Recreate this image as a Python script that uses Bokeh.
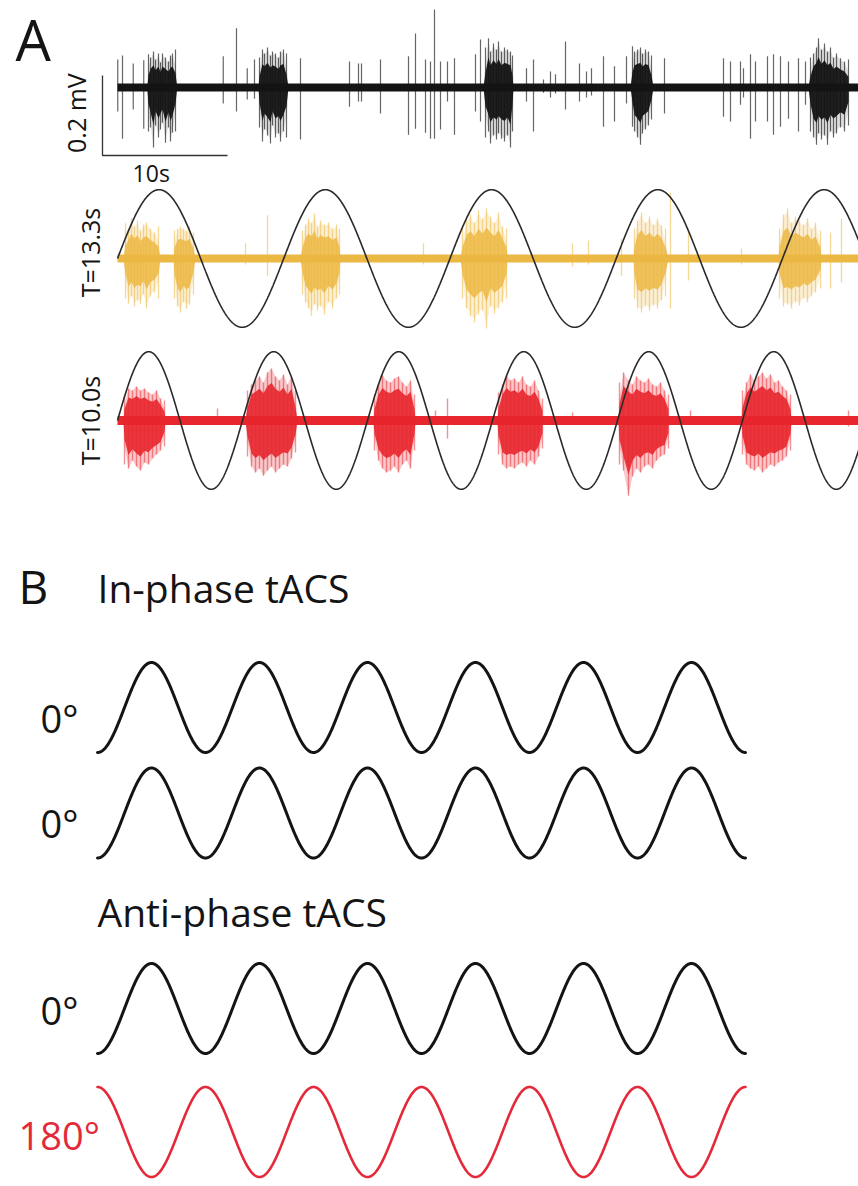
import numpy as np
from bokeh.plotting import figure
from bokeh.models import Range1d, Label
from bokeh.layouts import column
from bokeh.embed import file_html
from bokeh.resources import INLINE

# ---------------- Panel A data (time in s, amplitude in microvolts) ----------------
top_spike_t = [0.02, 0.40, 1.26, 2.10,
               2.48, 2.64, 2.88, 3.04, 3.28, 3.44, 3.60, 3.84, 4.08, 4.24, 4.40, 4.64,
               8.46, 9.52, 10.38, 10.96,
               11.36, 11.60, 11.76, 12.00, 12.24, 12.40, 12.64, 12.88, 13.04, 13.28, 13.52,
               14.64, 18.56, 19.28, 19.52, 21.04, 23.28, 23.84, 24.64, 25.04, 25.36, 25.84, 26.40, 26.96, 28.64, 29.04,
               29.44, 29.68, 29.84, 30.08, 30.32, 30.48, 30.72, 30.96, 31.20, 31.44, 31.60,
               32.72, 33.28, 34.08, 34.64, 35.04, 35.84, 36.96, 37.52, 37.92, 38.88, 39.76, 40.72,
               41.20, 41.36, 41.60, 41.84, 42.00, 42.24, 42.48, 42.72,
               43.76, 48.48, 49.04, 49.84, 50.08, 50.64, 51.04, 52.00, 52.48, 53.04, 53.68, 54.48, 55.04,
               55.44, 55.68, 55.92, 56.08, 56.32, 56.56, 56.80, 57.04, 57.28, 57.52, 57.84, 58.16, 58.48]
top_spike_up = [70, 80, 60, 68,
                83, 75, 90, 70, 85, 63, 85, 75, 65, 80, 85, 95,
                78, 148, 48, 70,
                75, 95, 85, 100, 80, 90, 85, 75, 90, 95, 85,
                73, 65, 60, 60, 70, 78, 135, 70, 65, 195, 65, 65, 73, 83, 120,
                100, 123, 90, 110, 95, 115, 90, 100, 95, 90, 80,
                48, 70, 20, 40, 33, 115, 60, 40, 48, 78, 53, 78,
                103, 90, 95, 100, 85, 95, 90, 80,
                73, 73, 65, 65, 48, 83, 65, 78, 83, 78, 65, 73, 65,
                75, 85, 100, 123, 95, 110, 90, 100, 75, 85, 73, 65, 70]
top_spike_dn = [60, 128, 55, 103,
                110, 100, 150, 95, 125, 105, 88, 138, 100, 135, 113, 110,
                40, 60, 30, 28,
                100, 135, 105, 120, 140, 95, 125, 115, 135, 110, 125,
                130, 48, 35, 35, 65, 118, 103, 113, 128, 128, 105, 35, 118, 60, 85,
                125, 110, 140, 120, 130, 115, 128, 135, 120, 150, 110,
                35, 110, 13, 25, 15, 55, 35, 25, 20, 98, 85, 40,
                98, 110, 125, 143, 115, 105, 95, 80,
                65, 73, 85, 43, 25, 128, 85, 85, 118, 98, 78, 110, 43,
                110, 125, 143, 115, 130, 120, 143, 110, 125, 115, 100, 110, 95]
top_burst_t0 = [2.38, 11.28, 29.28, 41.04, 55.28]
top_burst_t1 = [4.78, 13.68, 31.68, 42.88, 58.48]

y_spike_t = [0.64, 0.88, 1.12, 1.36, 1.60, 1.84, 2.08, 2.32, 2.64, 2.96, 3.28,
             4.56, 4.80, 5.04, 5.28, 5.52, 5.76, 6.08,
             10.24, 12.00,
             14.80, 15.04, 15.28, 15.52, 15.76, 16.00, 16.24, 16.56, 16.88, 17.20, 17.52, 17.76,
             24.48,
             27.60, 27.92, 28.24, 28.56, 28.88, 29.20, 29.52, 29.84, 30.16, 30.48, 30.80, 31.12,
             36.40, 37.68, 40.32,
             41.36, 41.60, 41.92, 42.24, 42.56, 42.88, 43.20, 43.52, 43.84, 44.24, 45.68,
             49.92,
             52.96, 53.28, 53.60, 53.92, 54.24, 54.56, 54.88, 55.20, 55.52, 55.84, 56.24, 57.04, 57.92]
y_spike_up = [88, 75, 100, 80, 95, 70, 85, 90, 75, 65, 80,
              70, 75, 80, 75, 70, 80, 65,
              38, 108,
              70, 85, 100, 90, 113, 80, 95, 85, 90, 75, 85, 75,
              38,
              75, 95, 110, 90, 120, 100, 125, 105, 90, 115, 80, 75,
              38, 45, 48,
              75, 95, 115, 90, 105, 85, 100, 83, 75, 165, 65,
              25,
              75, 110, 125, 90, 105, 95, 85, 100, 75, 90, 70, 65, 100]
y_spike_dn = [100, 113, 95, 120, 105, 113, 90, 125, 95, 85, 100,
              100, 120, 135, 110, 125, 115, 90,
              15, 43,
              90, 110, 125, 143, 115, 130, 120, 140, 110, 125, 100, 90,
              15,
              100, 125, 145, 160, 140, 130, 175, 120, 138, 125, 110, 100,
              20, 15, 43,
              100, 125, 135, 120, 130, 118, 125, 105, 95, 125, 55,
              15,
              100, 120, 115, 125, 110, 118, 100, 110, 95, 85, 75, 75, 60]
y_burst_t0 = [0.48, 4.48, 14.64, 27.44, 41.28, 52.88]
y_burst_t1 = [3.44, 6.24, 17.84, 31.20, 44.08, 56.32]

r_spike_t = [0.56, 0.88, 1.20, 1.52, 1.84, 2.16, 2.48, 2.80, 3.12, 3.44, 3.76,
             8.00,
             10.40, 10.72, 11.04, 11.36, 11.68, 12.00, 12.32, 12.64, 12.96, 13.28, 13.60, 13.92, 14.24,
             20.56, 20.88, 21.20, 21.52, 21.84, 22.16, 22.48, 22.80, 23.12, 23.44, 23.76,
             25.44, 26.40,
             30.48, 30.80, 31.12, 31.44, 31.76, 32.08, 32.40, 32.72, 33.04, 33.36, 33.68, 34.00,
             36.40,
             40.16, 40.48, 40.88, 41.20, 41.52, 41.84, 42.16, 42.48, 42.80, 43.12, 43.44, 43.76, 44.08,
             45.84,
             50.00, 50.32, 50.64, 50.96, 51.28, 51.60, 51.92, 52.24, 52.56, 52.88, 53.20, 53.52, 53.84,
             58.48]
r_spike_up = [65, 80, 75, 85, 75, 80, 70, 65, 75, 55, 50,
              30,
              75, 90, 100, 110, 95, 120, 130, 110, 100, 115, 90, 110, 75,
              65, 90, 113, 100, 95, 105, 110, 95, 85, 100, 65,
              25, 55,
              70, 90, 113, 100, 105, 95, 110, 90, 85, 100, 75, 55,
              20,
              95, 120, 100, 90, 110, 100, 95, 105, 90, 85, 95, 75, 65,
              25,
              75, 95, 115, 100, 110, 120, 105, 115, 95, 100, 85, 75, 65,
              25]
r_spike_dn = [110, 120, 100, 115, 125, 105, 110, 95, 85, 75, 65,
              10,
              90, 115, 130, 120, 138, 125, 115, 130, 120, 110, 115, 95, 80,
              75, 100, 120, 130, 125, 115, 130, 110, 100, 120, 75,
              10, 45,
              85, 110, 120, 115, 120, 110, 105, 115, 100, 110, 90, 70,
              10,
              110, 125, 188, 140, 120, 130, 115, 110, 120, 100, 90, 85, 70,
              10,
              85, 110, 120, 125, 115, 130, 120, 110, 115, 105, 100, 90, 75,
              15]
r_burst_t0 = [0.48, 10.24, 20.48, 30.40, 40.08, 49.92]
r_burst_t1 = [3.84, 14.40, 23.84, 34.00, 44.08, 53.92]

stim_periods = [13.3, 10.0]          # s
stim_labels = ["T=13.3s", "T=10.0s"]
stim_amp_uV = 172
scale_mV = 0.2
scale_s = 10

# ---------------- Panel B data ----------------
b_titles = ["In-phase tACS", "Anti-phase tACS"]
b_phase_deg = [0, 0, 0, 180]
b_labels = ["0°", "0°", "0°", "180°"]
b_cycles = 6

FONT = "Open Sans"
BLACK = "#141414"
YEL = "#ECB844"
RED = "#E8262E"
RED_B = "#E42A3A"


def bare(w, h, xr, yr):
    p = figure(width=w, height=h, x_range=Range1d(*xr), y_range=Range1d(*yr),
               output_backend="svg", toolbar_location=None, min_border=0,
               x_axis_location=None, y_axis_location=None)
    p.grid.visible = False
    p.outline_line_color = None
    return p


W = 858
HA, HB = 548, 638
PPU_A = 400.0   # px per mV
PPU_B = 45.0    # px per unit amplitude
pA = bare(W, HA, (-9.36, 59.28), (-1.1525, 0.2175))

bases = [0.0, -0.4275, -0.8325]
T_END = 60.0


def draw_trace(p, base, color, st, su, sd, b0, b1, band_w, s_alpha, k_core, c_alpha, k_halo, h_alpha, s_w):
    p.line([0, T_END], [base, base], line_width=band_w, line_color=color)
    for k, alpha in ((k_halo, h_alpha), (k_core, c_alpha)):
        xs, ys = [], []
        for a, b in zip(b0, b1):
            idx = [i for i, t in enumerate(st) if a - 0.01 <= t <= b + 0.01]
            n = len(idx)
            tx = [st[i] for i in idx]
            taper = [0.6 if (j == 0 or j == n - 1) else 1.0 for j in range(n)]
            upper = [base + k * f * su[i] / 1000 for f, i in zip(taper, idx)]
            lower = [base - k * f * sd[i] / 1000 for f, i in zip(taper, idx)]
            xs.append([a] + tx + [b] + tx[::-1])
            ys.append([base] + upper + [base] + lower[::-1])
        p.patches(xs, ys, fill_color=color, fill_alpha=alpha, line_color=None)
    p.segment(x0=st, x1=st, y0=[base - v / 1000 for v in sd], y1=[base + v / 1000 for v in su],
              line_color=color, line_alpha=s_alpha, line_width=s_w)


draw_trace(pA, bases[0], BLACK, top_spike_t, top_spike_up, top_spike_dn,
           top_burst_t0, top_burst_t1, 8, 0.65, 0.62, 0.95, 0.95, 0.14, 1.2)
draw_trace(pA, bases[1], YEL, y_spike_t, y_spike_up, y_spike_dn,
           y_burst_t0, y_burst_t1, 8, 0.55, 0.62, 0.85, 0.95, 0.22, 1.3)
draw_trace(pA, bases[2], RED, r_spike_t, r_spike_up, r_spike_dn,
           r_burst_t0, r_burst_t1, 9, 0.5, 0.72, 0.9, 1.0, 0.25, 1.4)

tt = np.linspace(0, T_END, 2000)
for base, T in zip(bases[1:], stim_periods):
    pA.line(tt, base + stim_amp_uV / 1000 * np.sin(2 * np.pi * tt / T),
            line_color="#2a2a2a", line_width=1.6)

# scale bar
sb_x, sb_y = -1.2, -0.17
pA.line([sb_x, sb_x, sb_x + scale_s], [sb_y + scale_mV, sb_y, sb_y],
        line_color="#333333", line_width=1.3)

BASE_FIX = 0.42  # alphabetic baseline correction (em)


def lab(p, ppu, x, y, text, size, color=BLACK, angle=0, align="left", baseline="alphabetic"):
    if baseline == "alphabetic":
        y = y + BASE_FIX * size / ppu
    p.add_layout(Label(x=x, y=y, text=text, text_font=FONT, text_font_size=f"{size}px",
                       text_color=color, angle=angle, text_align=align,
                       text_baseline=baseline))


lab(pA, PPU_A, -8.16, 0.0625, "A", 56)
lab(pA, PPU_A, -3.3, -0.064, f"{scale_mV} mV", 25, angle=np.pi / 2, align="center", baseline="middle")
lab(pA, PPU_A, sb_x + 3.9, -0.2375, f"{scale_s}s", 23, align="center")
lab(pA, PPU_A, -2.24, -0.4125, stim_labels[0], 25, angle=np.pi / 2, align="center", baseline="middle")
lab(pA, PPU_A, -2.24, -0.8325, stim_labels[1], 25, angle=np.pi / 2, align="center", baseline="middle")

# ---------------- Panel B ----------------
pB = bare(W, HB, (-0.898, 7.046), (-HB / PPU_B, 0.0))
offsets = [-3.533, -5.878, -10.222, -12.967]
colors = [BLACK, BLACK, BLACK, RED_B]
widths = [3, 3, 3, 2.6]
cc = np.linspace(0, b_cycles, 1500)
for off, ph, col, lw in zip(offsets, b_phase_deg, colors, widths):
    pB.line(cc, off - np.cos(2 * np.pi * cc + np.deg2rad(ph)), line_color=col,
            line_width=lw, line_join="round", line_cap="round")

lab(pB, PPU_B, -0.731, -1.267, "B", 46)
lab(pB, PPU_B, 0.0, -1.222, b_titles[0], 39)
lab(pB, PPU_B, 0.0, -8.422, b_titles[1], 39)
label_x = [-0.528, -0.528, -0.528, -0.731]
label_y = [-4.111, -6.444, -10.6, -13.378]
for x, y, t, col in zip(label_x, label_y, b_labels, colors):
    lab(pB, PPU_B, x, y, t, 38, color=col)

layout = column(pA, pB, spacing=0)
open("out.html", "w").write(file_html(layout, INLINE))
